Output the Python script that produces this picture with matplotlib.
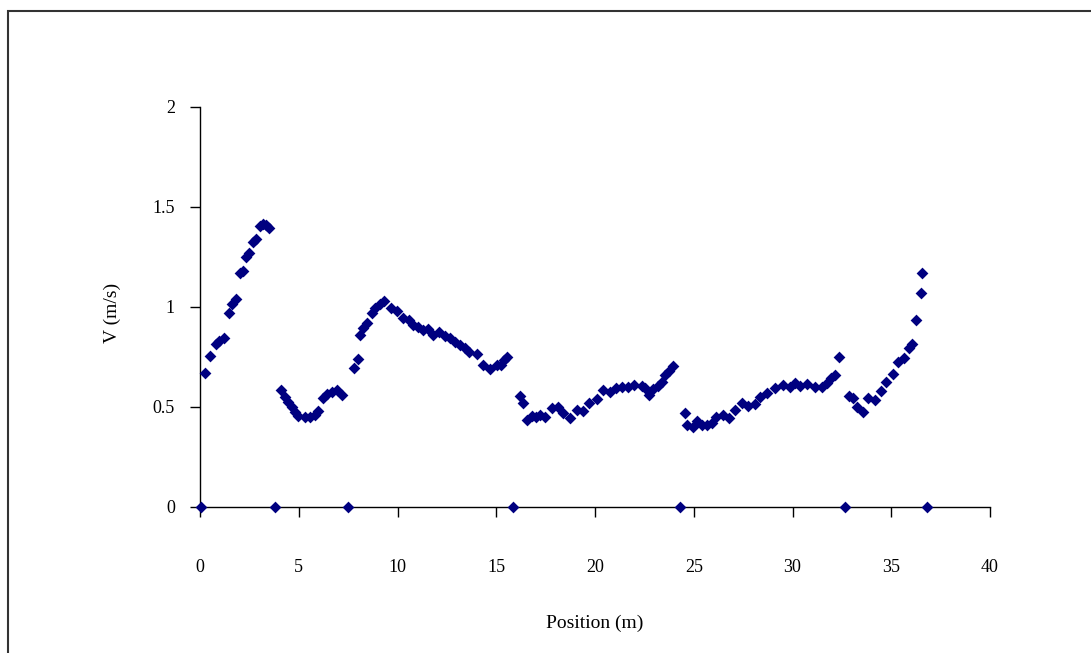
import matplotlib
matplotlib.use("Agg")
import matplotlib.pyplot as plt
from matplotlib.patches import Rectangle

# position (m) and velocity (m/s)
position = [
    0.05, 0.25, 0.51, 0.81, 0.98, 1.23, 1.47, 1.61, 1.82, 2.03, 2.16, 2.33, 2.50,
    2.67, 2.84, 3.04, 3.21, 3.34, 3.51,
    3.80,
    4.09, 4.30, 4.47, 4.64, 4.81, 4.98, 5.32, 5.57, 5.82, 5.99, 6.21, 6.42, 6.67,
    6.92, 7.17,
    7.51,
    7.80, 8.02, 8.10, 8.27, 8.44, 8.69, 8.86, 9.11, 9.32, 9.66, 9.96, 10.26, 10.60,
    10.80, 11.05, 11.31, 11.56, 11.81, 12.12, 12.41, 12.66, 12.91, 13.16, 13.42,
    13.64, 14.01, 14.34, 14.68, 15.02, 15.23, 15.39, 15.53,
    15.86,
    16.20, 16.34, 16.54, 16.80, 17.01, 17.22, 17.47, 17.81, 18.14, 18.39, 18.73,
    19.07, 19.41, 19.71, 20.09, 20.42, 20.76, 21.06, 21.35, 21.69, 21.97, 22.36,
    22.53, 22.75, 22.95, 23.20, 23.38, 23.54, 23.76, 23.96,
    24.30,
    24.56, 24.67, 24.95, 25.15, 25.40, 25.66, 25.91, 26.13, 26.47, 26.80, 27.09,
    27.43, 27.76, 28.10, 28.35, 28.69, 29.11, 29.53, 29.87, 30.13, 30.38, 30.72,
    31.14, 31.48, 31.73, 31.93, 32.15, 32.35,
    32.66,
    32.88, 33.08, 33.25, 33.55, 33.84, 34.18, 34.46, 34.73, 35.07, 35.36, 35.65,
    35.91, 36.04, 36.25, 36.49, 36.57,
    36.79,
]
velocity = [
    0.0, 0.669, 0.754, 0.813, 0.826, 0.841, 0.966, 1.013, 1.036, 1.166, 1.179, 1.246,
    1.269, 1.324, 1.336, 1.403, 1.413, 1.408, 1.394,
    0.0,
    0.583, 0.546, 0.524, 0.499, 0.474, 0.453, 0.446, 0.449, 0.458, 0.479, 0.541,
    0.561, 0.574, 0.583, 0.558,
    0.0,
    0.691, 0.738, 0.858, 0.891, 0.916, 0.966, 0.991, 1.013, 1.029, 0.991, 0.979,
    0.941, 0.933, 0.908, 0.896, 0.883, 0.886, 0.858, 0.874, 0.853, 0.841, 0.824,
    0.808, 0.791, 0.774, 0.763, 0.708, 0.686, 0.708, 0.708, 0.733, 0.749,
    0.0,
    0.554, 0.516, 0.433, 0.453, 0.449, 0.458, 0.446, 0.491, 0.499, 0.466, 0.441,
    0.483, 0.479, 0.519, 0.536, 0.583, 0.574, 0.591, 0.599, 0.596, 0.608, 0.603,
    0.591, 0.558, 0.586, 0.603, 0.624, 0.658, 0.679, 0.703,
    0.0,
    0.466, 0.408, 0.399, 0.429, 0.408, 0.408, 0.416, 0.446, 0.458, 0.441, 0.483,
    0.519, 0.503, 0.513, 0.549, 0.566, 0.591, 0.608, 0.596, 0.616, 0.603, 0.613,
    0.599, 0.599, 0.616, 0.641, 0.658, 0.746,
    0.0,
    0.553, 0.541, 0.496, 0.471, 0.541, 0.533, 0.579, 0.624, 0.663, 0.724, 0.741,
    0.791, 0.813, 0.933, 1.069, 1.169,
    0.0,
]

x_ticks = [0, 5, 10, 15, 20, 25, 30, 35, 40]
y_ticks = [0, 0.5, 1, 1.5, 2]
y_tick_labels = ["0", "0.5", "1", "1.5", "2"]

plt.rcParams["font.family"] = ["Liberation Serif", "DejaVu Serif"]

fig = plt.figure(figsize=(10.91, 6.53), dpi=100)
fig.patch.set_facecolor("white")

# chart-area frame (runs off the right and bottom edges)
fig.patches.append(Rectangle((7.5 / 1091, -0.05), 1.1, 1 - 11 / 653 + 0.05,
                             transform=fig.transFigure, fill=False,
                             edgecolor="#333333", linewidth=1.5))

ax = fig.add_axes([200 / 1091, 1 - 506.5 / 653, 790 / 1091, 400 / 653])
ax.scatter(position, velocity, marker="D", s=36, color="#000080",
           linewidths=0, zorder=3, clip_on=False)

ax.set_xlim(0, 40)
ax.set_ylim(0, 2)
ax.set_xticks(x_ticks)
ax.set_yticks(y_ticks)
ax.set_yticklabels(y_tick_labels)
ax.spines[["top", "right"]].set_visible(False)
for s in ("left", "bottom"):
    ax.spines[s].set_color("#000000")
    ax.spines[s].set_linewidth(1.0)
ax.tick_params(axis="x", direction="out", length=7, width=1.0, pad=31,
               labelsize=13)
ax.tick_params(axis="y", direction="out", length=7, width=1.0, pad=11,
               labelsize=13)

ax.set_xlabel("Position (m)", fontsize=14)
ax.set_ylabel("V (m/s)", fontsize=14)
ax.xaxis.set_label_coords(0.5, -(623 - 506.5) / 400)
ax.yaxis.set_label_coords(-(200 - 112) / 790, 0.5 - 6 / 400)
ax.xaxis.label.set_va("center")
ax.yaxis.label.set_va("center")

fig.savefig("out.png", dpi=100)
